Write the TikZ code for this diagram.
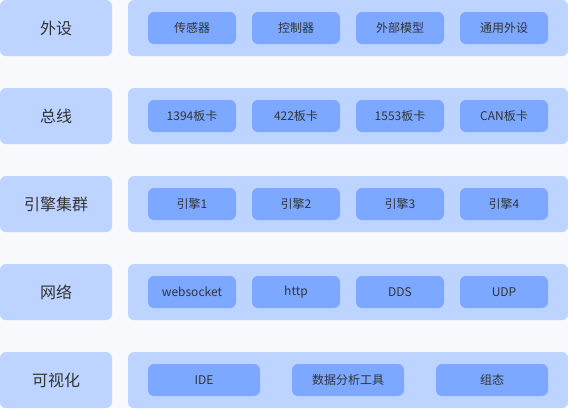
\documentclass[tikz,border=0pt]{standalone}
\usepackage{fontspec}
\setmainfont{Noto Sans CJK SC}
\definecolor{bgpage}{HTML}{F7F9FD}
\definecolor{layerblue}{HTML}{BCD4FF}
\definecolor{itemblue}{HTML}{7CA8FF}
\definecolor{txtgray}{HTML}{333333}
\tikzset{
	layer/.style={fill=layerblue, rounded corners=6pt, inner sep=0pt, outer sep=0pt, anchor=north west, minimum width=112pt, minimum height=56pt, font=\fontsize{16}{18}\selectfont, text=txtgray},
	band/.style={fill=layerblue, rounded corners=6pt, inner sep=0pt, outer sep=0pt, anchor=north west, minimum width=440pt, minimum height=56pt},
	item/.style={fill=itemblue, rounded corners=6pt, inner sep=0pt, outer sep=0pt, anchor=north west, minimum width=88pt, minimum height=32pt, font=\fontsize{12}{14}\selectfont, text=txtgray},
	wideitem/.style={item, minimum width=112pt}
}
\begin{document}
\begin{tikzpicture}[x=1pt, y=1pt]
			%%%%% START %%%%%
			
			\fill[bgpage] (0, 0) rectangle (568, -408);
			\useasboundingbox (0, 0) rectangle (568, -408);
			
			% peripherals
			\node[layer] (waishe) at (0, 0) {外设};
			\node[band] (waisheband) at (128, 0) {};
			\node[item] (chuanganqi) at (148, -12) {传感器};
			\node[item] (kongzhiqi) at (252, -12) {控制器};
			\node[item] (moxing) at (356, -12) {外部模型};
			\node[item] (tongyong) at (460, -12) {通用外设};
			
			% bus
			\node[layer] (zongxian) at (0, -88) {总线};
			\node[band] (zongxianband) at (128, -88) {};
			\node[item] (ka1394) at (148, -100) {1394板卡};
			\node[item] (ka422) at (252, -100) {422板卡};
			\node[item] (ka1553) at (356, -100) {1553板卡};
			\node[item] (kacan) at (460, -100) {CAN板卡};
			
			% engines
			\node[layer] (yinqing) at (0, -176) {引擎集群};
			\node[band] (yinqingband) at (128, -176) {};
			\node[item] (yinqing1) at (148, -188) {引擎1};
			\node[item] (yinqing2) at (252, -188) {引擎2};
			\node[item] (yinqing3) at (356, -188) {引擎3};
			\node[item] (yinqing4) at (460, -188) {引擎4};
			
			% network
			\node[layer] (wangluo) at (0, -264) {网络};
			\node[band] (wangluoband) at (128, -264) {};
			\node[item] (websocket) at (148, -276) {websocket};
			\node[item] (http) at (252, -276) {http};
			\node[item] (dds) at (356, -276) {DDS};
			\node[item] (udp) at (460, -276) {UDP};
			
			% visualisation
			\node[layer] (keshihua) at (0, -352) {可视化};
			\node[band] (keshihuaband) at (128, -352) {};
			\node[wideitem] (ide) at (148, -364) {IDE};
			\node[wideitem] (fenxi) at (292, -364) {数据分析工具};
			\node[wideitem] (zutai) at (436, -364) {组态};
			
			%%%%% END %%%%%
\end{tikzpicture}
\end{document}
